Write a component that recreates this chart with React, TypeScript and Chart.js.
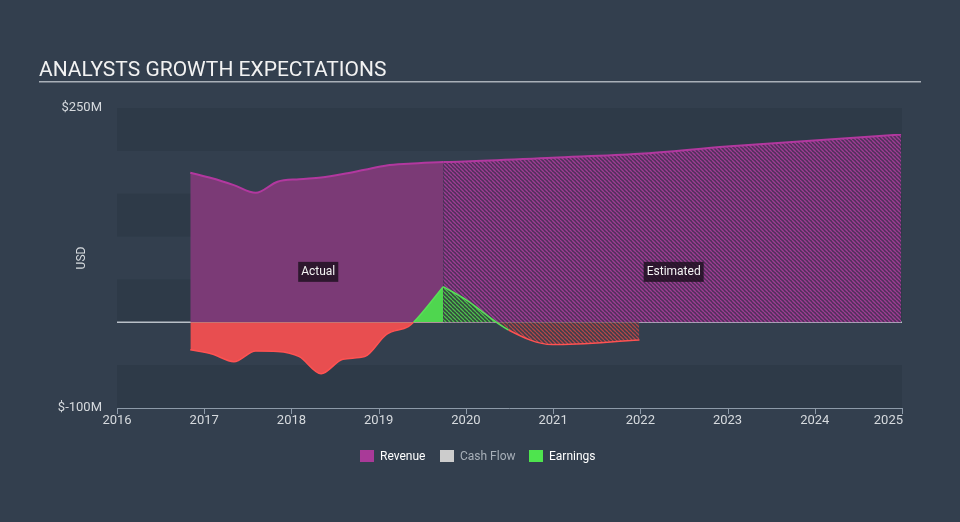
import React, { useEffect, useRef } from 'react';
import { Chart, registerables } from 'chart.js';

Chart.register(...registerables);

// ---- data ----
const xTickYears = [2016, 2017, 2018, 2019, 2020, 2021, 2022, 2023, 2024, 2025];
const yTickValues = [250, -100];
const yTickLabels = ['$250M', '$-100M'];
const bandEdges = [250, 200, 150, 100, 50, 0, -50, -100];

const revenueActualDates = [2016.84, 2017.09, 2017.34, 2017.59, 2017.84, 2018.09, 2018.34, 2018.59, 2018.84, 2019.09, 2019.34, 2019.74];
const revenueActual = [174.5, 168, 160, 151, 164, 167, 169, 173, 178, 183, 185, 187];

const revenueEstDates = [2019.74, 2019.99, 2020.99, 2021.99, 2022.99, 2023.99, 2024.99];
const revenueEst = [187, 187.5, 192, 196.5, 205, 212, 219];

const earningsActualDates = [2016.84, 2017.09, 2017.34, 2017.59, 2017.84, 2018.09, 2018.34, 2018.59, 2018.84, 2019.09, 2019.34, 2019.40, 2019.74];
const earningsActual = [-32, -37, -46, -33.5, -34, -40, -60, -43, -40, -14, -5, 0, 41.5];

const earningsEstDates = [2019.74, 2019.99, 2020.49, 2020.99, 2021.99];
const earningsEst = [41.5, 27, -9, -26, -20.7];

const legendItems = ['Revenue', 'Cash Flow', 'Earnings'];
const legendColors = ['#a93a98', '#cccccc', '#4ee44e'];
const legendTextColors = ['#ffffff', '#a7afb8', '#ffffff'];

const TITLE = 'ANALYSTS GROWTH EXPECTATIONS';

// ---- styles ----
const BG = '#333f4e';
const BAND = '#2e3a48';
const REV_LINE = '#b2389f';
const REV_FILL = '#7b3a76';
const GREEN_LINE = '#58e058';
const GREEN_FILL = '#4fd64f';
const RED_LINE = '#ff5252';
const RED_FILL = '#e84e50';
const FONT = 'Roboto, "Open Sans", sans-serif';

function toPts(xs: number[], ys: number[]) {
  return xs.map((x, i) => ({ x, y: ys[i] }));
}

function makeHatch(ctx: CanvasRenderingContext2D, base: string, stripe: string, width = 1.3) {
  const c = document.createElement('canvas');
  c.width = 4;
  c.height = 4;
  const g = c.getContext('2d')!;
  g.fillStyle = base;
  g.fillRect(0, 0, 4, 4);
  g.strokeStyle = stripe;
  g.lineWidth = width;
  g.beginPath();
  for (const k of [-4, 0, 4]) {
    g.moveTo(k, 0);
    g.lineTo(k + 4, 4);
  }
  g.stroke();
  return ctx.createPattern(c, 'repeat')!;
}

const decoPlugin = {
  id: 'deco',
  beforeDraw(chart: any) {
    const { ctx, chartArea, scales } = chart;
    const xs = scales.x;
    const ys = scales.y;
    ctx.save();
    ctx.fillStyle = BG;
    ctx.fillRect(0, 0, chart.width, chart.height);

    // bands
    for (let i = 0; i < bandEdges.length - 1; i += 2) {
      const y1 = ys.getPixelForValue(bandEdges[i]);
      const y2 = ys.getPixelForValue(bandEdges[i + 1]);
      ctx.fillStyle = BAND;
      ctx.fillRect(chartArea.left, y1, chartArea.right - chartArea.left, y2 - y1);
    }

    // title
    ctx.fillStyle = '#f2f2f2';
    ctx.font = `21px ${FONT}`;
    ctx.textAlign = 'left';
    ctx.textBaseline = 'alphabetic';
    ctx.fillText(TITLE, 39, 76);
    ctx.fillStyle = '#a9b0b8';
    ctx.fillRect(39, 81, 882, 1.5);

    // y labels
    ctx.fillStyle = '#d6dade';
    ctx.font = `13px ${FONT}`;
    ctx.textAlign = 'right';
    ctx.textBaseline = 'middle';
    yTickValues.forEach((v, i) => {
      ctx.fillText(yTickLabels[i], 102, ys.getPixelForValue(v));
    });
    ctx.save();
    ctx.translate(82, (chartArea.top + chartArea.bottom) / 2);
    ctx.rotate(-Math.PI / 2);
    ctx.textAlign = 'center';
    ctx.font = `12px ${FONT}`;
    ctx.fillText('USD', 0, 0);
    ctx.restore();

    // x axis
    const yb = chartArea.bottom;
    ctx.strokeStyle = '#8d9aa8';
    ctx.lineWidth = 1;
    ctx.beginPath();
    ctx.moveTo(chartArea.left, yb + 0.5);
    ctx.lineTo(chartArea.right, yb + 0.5);
    xTickYears.forEach((yr) => {
      const px = Math.round(xs.getPixelForValue(yr)) + 0.5;
      ctx.moveTo(px, yb);
      ctx.lineTo(px, yb + 6);
    });
    ctx.stroke();
    ctx.fillStyle = '#d6dade';
    ctx.font = `13px ${FONT}`;
    ctx.textBaseline = 'middle';
    xTickYears.forEach((yr, i) => {
      const px = xs.getPixelForValue(yr);
      if (i === xTickYears.length - 1) {
        ctx.textAlign = 'right';
        ctx.fillText(String(yr), px + 1, yb + 13);
      } else {
        ctx.textAlign = 'center';
        ctx.fillText(String(yr), px, yb + 13);
      }
    });

    // legend
    const legendX = [360, 440, 529];
    ctx.font = `12px ${FONT}`;
    ctx.textAlign = 'left';
    legendItems.forEach((name, i) => {
      ctx.fillStyle = legendColors[i];
      ctx.fillRect(legendX[i], 450, 14, 12);
      ctx.fillStyle = legendTextColors[i];
      ctx.fillText(name, legendX[i] + 20, 456.5);
    });
    ctx.restore();
  },
  beforeDatasetsDraw(chart: any) {
    const { ctx, chartArea, scales } = chart;
    const y0 = scales.y.getPixelForValue(0);
    ctx.save();
    ctx.strokeStyle = '#b9c0c8';
    ctx.lineWidth = 1.5;
    ctx.beginPath();
    ctx.moveTo(chartArea.left, y0);
    ctx.lineTo(chartArea.right, y0);
    ctx.stroke();
    ctx.restore();
  },
  afterDatasetsDraw(chart: any) {
    const { ctx, scales } = chart;
    const xs = scales.x;
    const yMid = scales.y.getPixelForValue(60);
    const a0 = xs.getPixelForValue(revenueActualDates[0]);
    const a1 = xs.getPixelForValue(revenueActualDates[revenueActualDates.length - 1]);
    const e1 = xs.getPixelForValue(revenueEstDates[revenueEstDates.length - 1]);
    const labels: [string, number][] = [
      ['Actual', (a0 + a1) / 2 + 1.5],
      ['Estimated', (a1 + e1) / 2 + 1.5],
    ];
    ctx.save();
    ctx.font = `12px ${FONT}`;
    ctx.textAlign = 'center';
    ctx.textBaseline = 'middle';
    labels.forEach(([t, cx]) => {
      const w = ctx.measureText(t).width + 6;
      ctx.fillStyle = 'rgba(32,18,34,0.85)';
      ctx.fillRect(cx - w / 2, yMid - 9, w, 20);
      ctx.fillStyle = '#f4f4f4';
      ctx.fillText(t, cx, yMid + 1.5);
    });
    ctx.restore();
  },
};

export default function App() {
  const ref = useRef<HTMLCanvasElement | null>(null);
  useEffect(() => {
    const canvas = ref.current!;
    const ctx = canvas.getContext('2d')!;
    const revHatch = makeHatch(ctx, '#50305b', '#9e3c93', 1.4);
    const greenHatch = makeHatch(ctx, '#35453f', '#4cc24c', 1.3);
    const redHatch = makeHatch(ctx, '#3d3e4b', '#b44648', 1.3);
    const segColor = (c: any) =>
      (c.p0.parsed.y + c.p1.parsed.y) / 2 >= 0 ? GREEN_LINE : RED_LINE;

    const chart = new Chart(canvas, {
      type: 'line',
      data: {
        datasets: [
          {
            label: 'Earnings',
            data: toPts(earningsActualDates, earningsActual),
            borderColor: GREEN_LINE,
            segment: { borderColor: segColor },
            borderWidth: 1.5,
            fill: { target: 'origin', above: GREEN_FILL, below: RED_FILL },
            pointRadius: 0,
            cubicInterpolationMode: 'monotone',
            order: 0,
          },
          {
            label: 'Earnings estimate',
            data: toPts(earningsEstDates, earningsEst),
            borderColor: GREEN_LINE,
            segment: { borderColor: segColor },
            borderWidth: 1.5,
            fill: { target: 'origin', above: greenHatch, below: redHatch },
            pointRadius: 0,
            cubicInterpolationMode: 'monotone',
            order: 0,
          },
          {
            label: 'Revenue',
            data: toPts(revenueActualDates, revenueActual),
            borderColor: REV_LINE,
            backgroundColor: REV_FILL,
            borderWidth: 2,
            fill: 'origin',
            pointRadius: 0,
            cubicInterpolationMode: 'monotone',
            order: 1,
          },
          {
            label: 'Revenue estimate',
            data: toPts(revenueEstDates, revenueEst),
            borderColor: REV_LINE,
            backgroundColor: revHatch,
            borderWidth: 2,
            fill: 'origin',
            pointRadius: 0,
            cubicInterpolationMode: 'monotone',
            order: 1,
          },
        ],
      } as any,
      options: {
        animation: false,
        responsive: false,
        devicePixelRatio: 1,
        layout: { padding: { left: 117, right: 58, top: 108, bottom: 114 } },
        scales: {
          x: { type: 'linear', min: 2016, max: 2025, display: false },
          y: { type: 'linear', min: -100, max: 250, display: false },
        },
        plugins: {
          legend: { display: false },
          tooltip: { enabled: false },
          title: { display: false },
        },
        events: [],
      } as any,
      plugins: [decoPlugin],
    });
    return () => chart.destroy();
  }, []);

  return (
    <div style={{ position: 'absolute', left: 0, top: 0, width: 960, height: 522, background: BG }}>
      <canvas ref={ref} width={960} height={522} style={{ display: 'block', width: 960, height: 522 }} />
    </div>
  );
}
